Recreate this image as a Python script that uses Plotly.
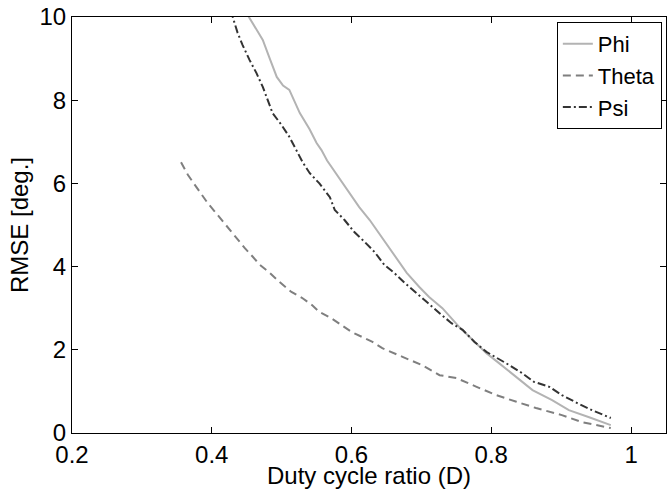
import plotly.graph_objects as go

# Duty cycle ratio (D) and RMSE [deg.] per series
phi_d = [0.443, 0.453, 0.463, 0.473, 0.483, 0.493, 0.502, 0.511, 0.526, 0.540, 0.550, 0.557,
         0.565, 0.573, 0.585, 0.597, 0.611, 0.626, 0.636, 0.650, 0.666, 0.679, 0.697, 0.711,
         0.730, 0.754, 0.773, 0.793, 0.811, 0.836, 0.859, 0.887, 0.911, 0.940, 0.971]
phi_r = [10.28, 10.0, 9.70, 9.45, 9.00, 8.56, 8.35, 8.25, 7.69, 7.30, 6.97, 6.80,
         6.55, 6.35, 6.05, 5.77, 5.43, 5.12, 4.88, 4.57, 4.16, 3.85, 3.51, 3.27,
         3.00, 2.55, 2.24, 1.92, 1.68, 1.35, 1.03, 0.79, 0.55, 0.38, 0.19]

theta_d = [0.356, 0.366, 0.376, 0.386, 0.394, 0.404, 0.416, 0.426, 0.436, 0.447, 0.459, 0.469,
           0.483, 0.497, 0.514, 0.529, 0.543, 0.554, 0.571, 0.586, 0.600, 0.630, 0.644, 0.673,
           0.701, 0.726, 0.750, 0.779, 0.807, 0.836, 0.864, 0.901, 0.930, 0.971]
theta_r = [6.51, 6.20, 5.96, 5.72, 5.53, 5.33, 5.08, 4.86, 4.66, 4.45, 4.23, 4.04,
           3.85, 3.63, 3.39, 3.25, 3.08, 2.91, 2.76, 2.60, 2.43, 2.19, 2.04, 1.83,
           1.63, 1.39, 1.32, 1.11, 0.91, 0.75, 0.60, 0.43, 0.26, 0.12]

psi_d = [0.425, 0.430, 0.437, 0.444, 0.454, 0.464, 0.473, 0.480, 0.487, 0.500, 0.511, 0.521,
         0.530, 0.540, 0.554, 0.569, 0.576, 0.590, 0.604, 0.619, 0.633, 0.647, 0.661, 0.676,
         0.693, 0.709, 0.726, 0.743, 0.759, 0.776, 0.793, 0.809, 0.826, 0.844, 0.861, 0.883,
         0.901, 0.923, 0.944, 0.971]
psi_r = [10.15, 10.0, 9.62, 9.33, 8.97, 8.65, 8.32, 8.00, 7.69, 7.40, 7.12, 6.80,
         6.51, 6.25, 6.00, 5.67, 5.36, 5.12, 4.83, 4.59, 4.35, 4.04, 3.85, 3.61,
         3.37, 3.13, 2.88, 2.64, 2.48, 2.19, 1.95, 1.80, 1.63, 1.44, 1.23, 1.11,
         0.91, 0.72, 0.55, 0.36]

x_ticks = [0.2, 0.4, 0.6, 0.8, 1.0]
x_tick_text = ["0.2", "0.4", "0.6", "0.8", "1"]
y_ticks = [0, 2, 4, 6, 8, 10]

FONT = "Liberation Sans, Arial, Helvetica, sans-serif"

fig = go.Figure()
fig.add_trace(go.Scatter(x=phi_d, y=phi_r, mode="lines", name="Phi",
                         line=dict(color="#b3b3b3", width=2)))
fig.add_trace(go.Scatter(x=theta_d, y=theta_r, mode="lines", name="Theta",
                         line=dict(color="#7f7f7f", width=2, dash="8px,5px")))
fig.add_trace(go.Scatter(x=psi_d, y=psi_r, mode="lines", name="Psi",
                         line=dict(color="#333333", width=2, dash="8px,3px,2px,3px")))

axis_common = dict(
    showgrid=False, zeroline=False, showline=True, linecolor="black", linewidth=1,
    mirror="ticks", ticks="inside", ticklen=6, tickcolor="black", tickwidth=1,
    tickfont=dict(family=FONT, size=24, color="black"),
)

fig.update_xaxes(range=[0.2, 1.05], tickvals=x_ticks, ticktext=x_tick_text,
                 title=dict(text="Duty cycle ratio (D)", font=dict(family=FONT, size=24, color="black"),
                            standoff=5),
                 **axis_common)
fig.update_yaxes(range=[0, 10], tickvals=y_ticks,
                 title=dict(text="RMSE [deg.]", font=dict(family=FONT, size=24, color="black"),
                            standoff=4),
                 **axis_common)

fig.update_layout(
    width=667, height=489,
    margin=dict(l=72, r=1, t=17, b=56, autoexpand=False),
    plot_bgcolor="white", paper_bgcolor="white",
    font=dict(family=FONT, size=24, color="black"),
    showlegend=True,
    legend=dict(x=0.993, y=0.988, xanchor="right", yanchor="top",
                bgcolor="white", bordercolor="black", borderwidth=1,
                font=dict(family=FONT, size=22, color="black"),
                tracegroupgap=0, itemwidth=30),
)

fig.write_html("out.html",
               config={"displayModeBar": False},
               post_script="document.body.style.margin='0';document.body.style.padding='0';")
